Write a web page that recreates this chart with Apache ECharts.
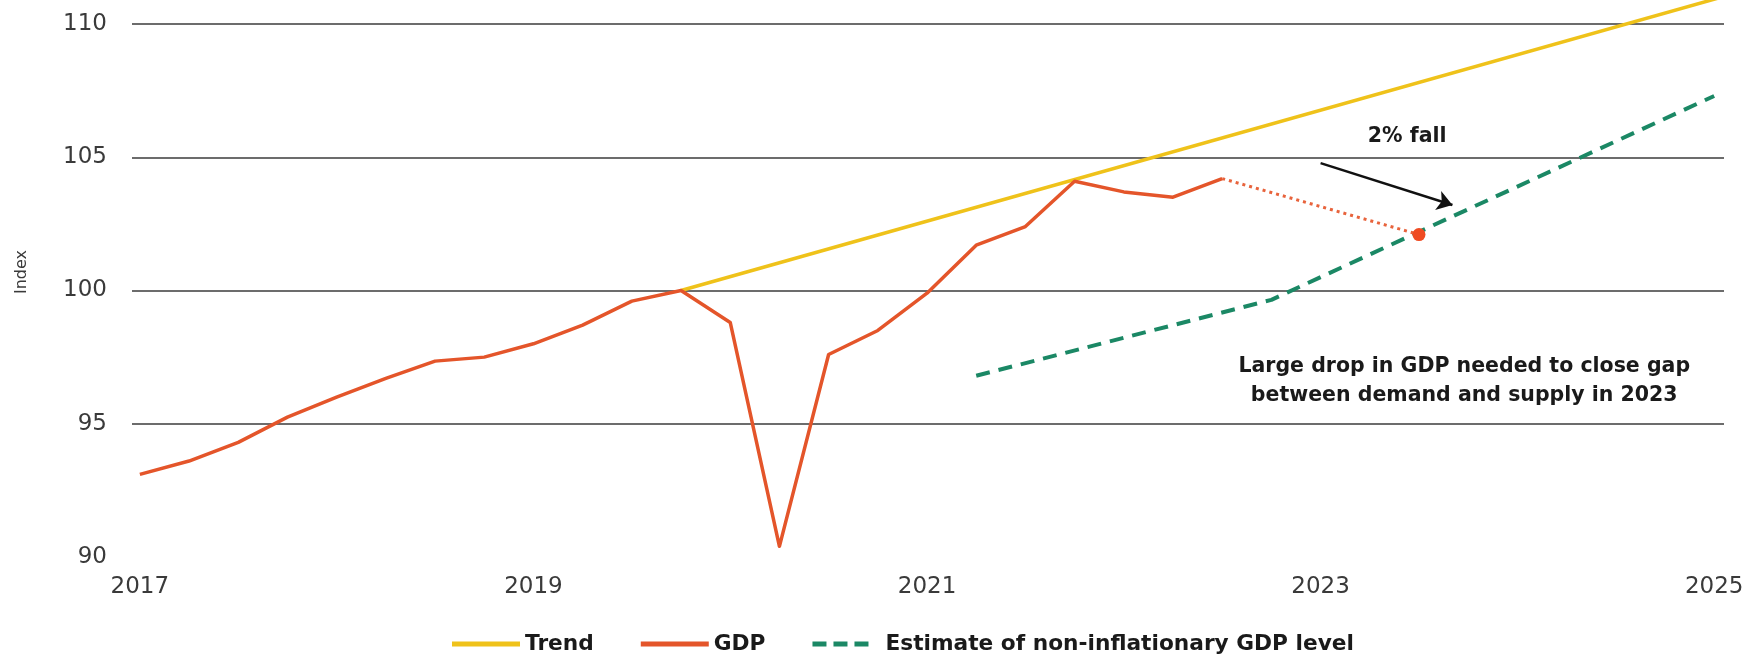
<!DOCTYPE html>
<html>
<head>
<meta charset="utf-8">
<script src="https://cdn.jsdelivr.net/npm/echarts@6/dist/echarts.min.js"></script>
<style>
  html, body { margin: 0; padding: 0; background: #ffffff; }
  #chart { width: 1750px; height: 658px; }
</style>
</head>
<body>
<div id="chart"></div>
<script>
// Quarterly GDP index (2019Q4 = 100)
const gdpQuarters = ['2017Q1','2017Q2','2017Q3','2017Q4','2018Q1','2018Q2','2018Q3','2018Q4',
  '2019Q1','2019Q2','2019Q3','2019Q4','2020Q1','2020Q2','2020Q3','2020Q4',
  '2021Q1','2021Q2','2021Q3','2021Q4','2022Q1','2022Q2','2022Q3'];
const gdpValues = [93.1, 93.6, 94.3, 95.25, 96.0, 96.7, 97.35, 97.5,
  98.0, 98.7, 99.6, 100.0, 98.8, 90.4, 97.6, 98.5,
  99.9, 101.7, 102.4, 104.1, 103.7, 103.5, 104.2];

// Pre-pandemic trend, a straight line from 2019Q4
const trendQuarters = ['2019Q4', '2025Q2'];
const trendValues = [100.0, 111.45];

// Estimate of the non-inflationary GDP level
const estimateQuarters = ['2021Q2', '2022Q4', '2025Q1'];
const estimateValues = [96.8, 99.65, 107.3];

// Required GDP path: from latest GDP to the non-inflationary level
const pathQuarters = ['2022Q3', '2023Q3'];
const pathValues = [104.2, 102.1];

const yearTicks = [2017, 2019, 2021, 2023, 2025];
const yTicks = { min: 90, max: 110, step: 5 };

const legendNames = ['Trend', 'GDP', 'Estimate of non-inflationary GDP level'];
const noteFall = '2% fall';
const noteGap = 'Large drop in GDP needed to close gap\nbetween demand and supply in 2023';

// quarter label -> decimal year at the start of the quarter
function qx(q) {
  const y = parseInt(q.slice(0, 4), 10);
  const n = parseInt(q.slice(5), 10);
  return y + (n - 1) / 4;
}
function pairs(qs, vs) { return qs.map((q, i) => [qx(q), vs[i]]); }

const FONT = 'DejaVu Sans';
const C_TREND = '#EFC21A';
const C_GDP = '#E4552A';
const C_EST = '#1B8865';
const C_DOT = '#EF4B22';
const C_GRID = '#6c6c6c';

// legend keys: solid bar, and three dashes (trailing move keeps the key 68 wide)
const ICON_SOLID = 'rect';
const ICON_DASHED = 'path://M0,0h14v5h-14z M21,0h14v5h-14z M42,0h14v5h-14z M68,0';

const chart = echarts.init(document.getElementById('chart'), null, { renderer: 'canvas' });

chart.setOption({
  animation: false,
  backgroundColor: '#ffffff',
  textStyle: { fontFamily: FONT },
  grid: { left: 132, right: 26, top: 24, height: 533, containLabel: false },
  xAxis: {
    type: 'value',
    min: 2016.96,
    max: 2025.05,
    axisLine: { show: false },
    axisTick: { show: false },
    splitLine: { show: false },
    axisLabel: {
      customValues: yearTicks,
      formatter: v => String(v),
      fontFamily: FONT,
      fontSize: 23,
      color: '#3a3a3a',
      margin: 19
    }
  },
  yAxis: {
    type: 'value',
    min: yTicks.min,
    max: yTicks.max,
    interval: yTicks.step,
    axisLine: { show: false },
    axisTick: { show: false },
    axisLabel: {
      fontFamily: FONT,
      fontSize: 23,
      color: '#3a3a3a',
      margin: 25
    },
    splitLine: {
      show: true,
      lineStyle: {
        // no rule on the 90 baseline
        color: ['rgba(0,0,0,0)', C_GRID, C_GRID, C_GRID, C_GRID],
        width: 2
      }
    }
  },
  legend: {
    data: [
      { name: legendNames[0], icon: ICON_SOLID },
      { name: legendNames[1], icon: ICON_SOLID },
      { name: legendNames[2], icon: ICON_DASHED }
    ],
    left: 452,
    top: 633,
    padding: 0,
    itemWidth: 68,
    itemHeight: 5,
    itemGap: 47,
    textStyle: { fontFamily: FONT, fontSize: 21.7, fontWeight: 'bold', color: '#1a1a1a' }
  },
  graphic: [{
    type: 'text',
    x: 22,
    y: 272,
    rotation: Math.PI / 2,
    style: {
      text: 'Index',
      font: '16px "DejaVu Sans"',
      fill: '#3a3a3a',
      align: 'center',
      verticalAlign: 'middle'
    }
  }],
  series: [
    {
      name: 'Trend',
      type: 'line',
      data: pairs(trendQuarters, trendValues),
      symbol: 'none',
      clip: false,
      lineStyle: { color: C_TREND, width: 3.5 },
      itemStyle: { color: C_TREND },
      z: 2
    },
    {
      name: 'Estimate of non-inflationary GDP level',
      type: 'line',
      data: pairs(estimateQuarters, estimateValues),
      symbol: 'none',
      lineStyle: { color: C_EST, width: 4, type: [14, 9] },
      itemStyle: { color: C_EST },
      z: 3
    },
    {
      name: 'GDP',
      type: 'line',
      data: pairs(gdpQuarters, gdpValues),
      symbol: 'none',
      lineStyle: { color: C_GDP, width: 3.5, join: 'round' },
      itemStyle: { color: C_GDP },
      z: 4
    },
    {
      name: 'Required GDP path',
      type: 'line',
      data: pairs(pathQuarters, pathValues).map((p, i) => ({
        value: p,
        symbol: i === pathQuarters.length - 1 ? 'circle' : 'none',
        symbolSize: 13
      })),
      showSymbol: true,
      lineStyle: { color: '#E8633C', width: 3, type: [3, 4] },
      itemStyle: { color: C_DOT, borderWidth: 0 },
      z: 5,
      markLine: {
        silent: true,
        symbol: ['none', 'arrow'],
        symbolSize: 15,
        label: { show: false },
        lineStyle: { color: '#111111', width: 2.5, type: 'solid' },
        data: [[{ coord: [2023.0, 104.78] }, { coord: [2023.67, 103.21] }]]
      },
      markPoint: {
        silent: true,
        symbol: 'circle',
        symbolSize: 1,
        itemStyle: { color: 'rgba(0,0,0,0)' },
        label: {
          show: true,
          position: 'inside',
          fontFamily: FONT,
          fontWeight: 'bold',
          fontSize: 20.5,
          lineHeight: 29,
          align: 'center',
          color: '#1a1a1a'
        },
        data: [
          { coord: [2023.44, 105.76], label: { formatter: noteFall } },
          { coord: [2023.73, 96.6], label: { formatter: noteGap } }
        ]
      }
    }
  ]
});
</script>
</body>
</html>
